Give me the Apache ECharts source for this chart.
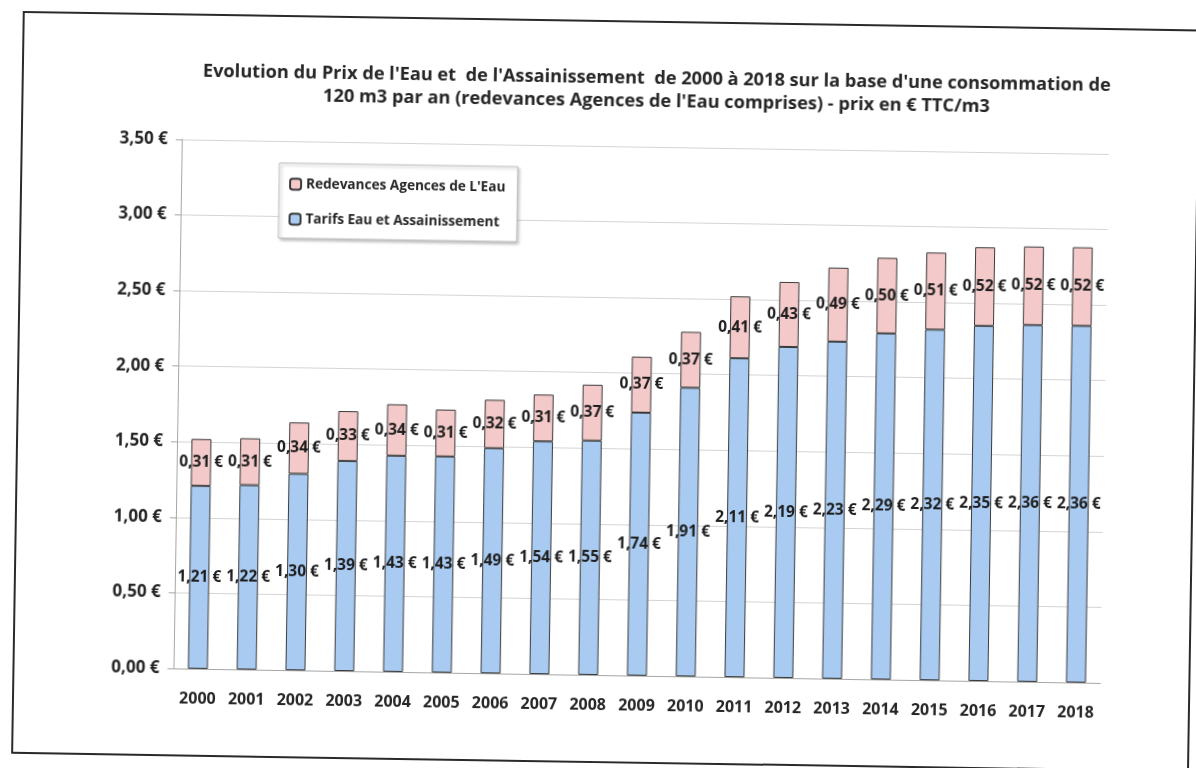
<!DOCTYPE html>
<html>
<head>
<meta charset="utf-8">
<script src="https://cdn.jsdelivr.net/npm/echarts@6/dist/echarts.min.js"></script>
<style>
  html, body { margin: 0; padding: 0; background: #ffffff; overflow: hidden; }
  #page { position: absolute; left: 0; top: 0; width: 1196px; height: 768px;
          transform: rotate(0.9deg); transform-origin: 598px 384px; }
  #frame { position: absolute; left: 17px; top: 20px; width: 1174px; height: 739px;
           border: 2px solid #2a2a2a; }
  #chart { position: absolute; left: 0; top: 0; width: 1196px; height: 768px; }
</style>
</head>
<body>
<div id="page">
  <div id="frame"></div>
  <div id="chart"></div>
</div>
<script>
// Years shown on the category axis
const years = ['2000','2001','2002','2003','2004','2005','2006','2007','2008','2009',
               '2010','2011','2012','2013','2014','2015','2016','2017','2018'];
// Water + sanitation tariff, € TTC/m3
const tarifs = [1.21,1.22,1.30,1.39,1.43,1.43,1.49,1.54,1.55,1.74,
                1.91,2.11,2.19,2.23,2.29,2.32,2.35,2.36,2.36];
// Water agency fees, € TTC/m3
const redevances = [0.31,0.31,0.34,0.33,0.34,0.31,0.32,0.31,0.37,0.37,
                    0.37,0.41,0.43,0.49,0.50,0.51,0.52,0.52,0.52];
// Value axis ticks
const yTicks = [0, 0.5, 1, 1.5, 2, 2.5, 3, 3.5];

const euro = v => v.toFixed(2).replace('.', ',') + ' €';
const FONT = '"Open Sans", sans-serif';
const INK = '#262626';

const labelStyle = {
  show: true,
  position: 'inside',
  formatter: p => euro(p.value),
  color: '#1e1e1e',
  fontFamily: FONT,
  fontWeight: 'bold',
  fontSize: 15.5
};

const chart = echarts.init(document.getElementById('chart'), null, { renderer: 'canvas' });
chart.setOption({
  animation: false,
  backgroundColor: 'transparent',
  title: {
    text: "Evolution du Prix de l'Eau et  de l'Assainissement  de 2000 à 2018 sur la base d'une consommation de\n120 m3 par an (redevances Agences de l'Eau comprises) - prix en € TTC/m3",
    left: 647,
    top: 61,
    textAlign: 'center',
    textStyle: {
      fontFamily: FONT, fontWeight: 'bold', fontSize: 18.2, lineHeight: 23,
      color: INK, align: 'center'
    }
  },
  legend: {
    orient: 'vertical',
    left: 276,
    top: 168,
    padding: [14, 12, 12, 10],
    itemGap: 21,
    itemWidth: 11,
    itemHeight: 11,
    backgroundColor: '#ffffff',
    borderColor: '#bdbdbd',
    borderWidth: 1,
    shadowColor: 'rgba(0,0,0,0.25)',
    shadowBlur: 3,
    shadowOffsetX: 2,
    shadowOffsetY: 2,
    data: ['Redevances Agences de L\'Eau', 'Tarifs Eau et Assainissement'],
    textStyle: { fontFamily: FONT, fontWeight: 'bold', fontSize: 13.6, color: INK }
  },
  grid: { left: 178, right: 91, top: 146, bottom: 93 },
  xAxis: {
    type: 'category',
    data: years,
    axisLine: { lineStyle: { color: '#a6a6a6', width: 1 } },
    axisTick: { show: false },
    axisLabel: { margin: 22, color: INK, fontFamily: FONT, fontWeight: 'bold', fontSize: 16 }
  },
  yAxis: {
    type: 'value',
    min: yTicks[0],
    max: yTicks[yTicks.length - 1],
    interval: 0.5,
    axisLine: { show: true, lineStyle: { color: '#a6a6a6' } },
    axisTick: { show: true, length: 6, lineStyle: { color: '#a6a6a6' } },
    splitLine: { lineStyle: { color: '#d4d4d4', width: 1 } },
    axisLabel: { margin: 14, color: INK, fontFamily: FONT, fontWeight: 'bold', fontSize: 17,
                 formatter: v => euro(v) }
  },
  series: [
    {
      name: 'Tarifs Eau et Assainissement',
      type: 'bar',
      stack: 'prix',
      data: tarifs,
      barWidth: '41%',
      itemStyle: { color: '#a9cbf2', borderColor: '#3a3a3a', borderWidth: 1 },
      label: labelStyle
    },
    {
      name: 'Redevances Agences de L\'Eau',
      type: 'bar',
      stack: 'prix',
      data: redevances,
      barWidth: '41%',
      itemStyle: { color: '#f3c9c9', borderColor: '#3a3a3a', borderWidth: 1 },
      label: labelStyle
    }
  ]
});
</script>
</body>
</html>
